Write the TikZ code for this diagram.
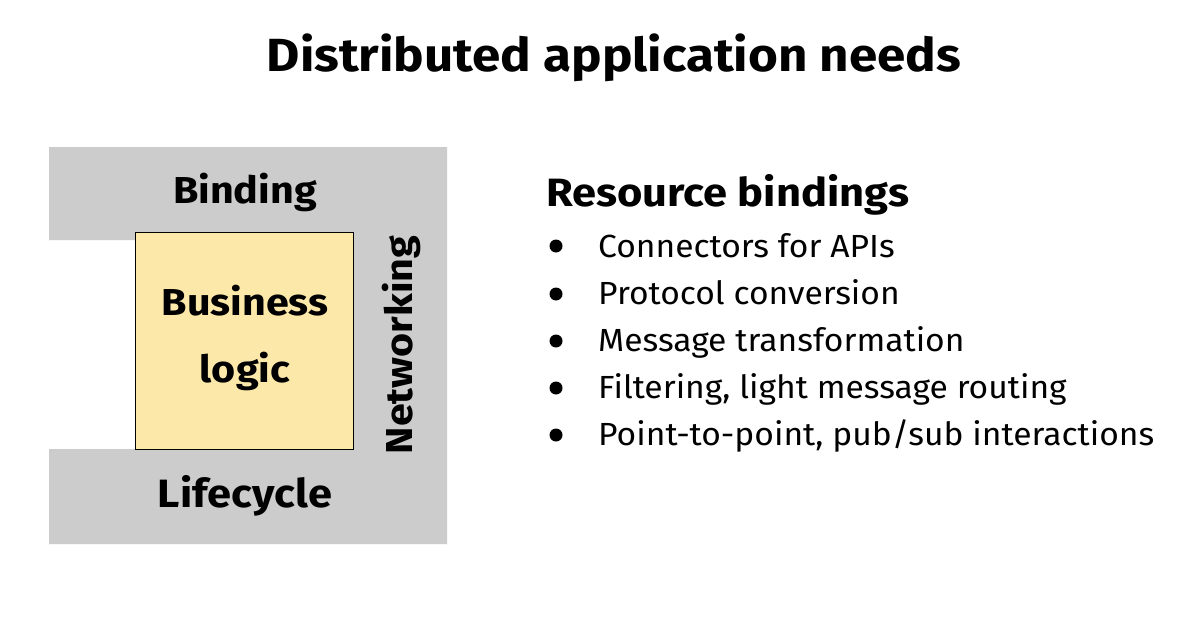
\documentclass[tikz,border=0pt]{standalone}
\usepackage{fontspec}
\setmainfont{Fira Sans}
\newfontfamily\hb{Fira Sans}[FakeStretch=1.1]
\newfontfamily\hr{Fira Sans}[FakeStretch=1.05]
\begin{document}
\begin{tikzpicture}[x=1pt,y=-1pt,
  lbl/.style={font=\hb\fontsize{37.5}{44}\selectfont\bfseries, inner sep=0pt, anchor=base},
  item/.style={font=\hr\fontsize{32}{38}\selectfont, inner sep=0pt, anchor=base west},
  dot/.style={circle, fill=black, minimum size=13pt, inner sep=0pt}]
\useasboundingbox (0,0) rectangle (1200,618);
\fill[white] (0,0) rectangle (1200,618);
% gray C shape
\fill[fill={rgb,255:red,204;green,204;blue,204}] (49,147) -- (447,147) -- (447,544) -- (49,544) -- (49,449) -- (135,449) -- (135,240) -- (49,240) -- cycle;
\node[draw=black, line width=1.2pt, fill={rgb,255:red,252;green,232;blue,168}, minimum width=218pt, minimum height=217pt, inner sep=0pt, anchor=north west] (biz) at (135,232) {};
\node[lbl] (bind) at (245,203) {Binding};
\node[lbl] (bus) at (245,315) {Business};
\node[lbl] (log) at (245,382) {logic};
\node[lbl, font=\hb\fontsize{39.5}{46}\selectfont\bfseries] (life) at (245,507) {Lifecycle};
\node[lbl, rotate=90] (net) at (412,345) {Networking};
% title
\node[font=\hb\fontsize{46.5}{52}\selectfont\bfseries, inner sep=0pt, anchor=base] (title) at (614,72) {Distributed application needs};
% right list
\node[font=\hb\fontsize{39.5}{46}\selectfont\bfseries, inner sep=0pt, anchor=base west] (rb) at (546,206) {Resource bindings};
\node[item] (i1) at (598,257) {Connectors for APIs};
\node[item] (i2) at (598,304) {Protocol conversion};
\node[item] (i3) at (598,351) {Message transformation};
\node[item] (i4) at (598,398) {Filtering, light message routing};
\node[item] (i5) at (598,445) {Point-to-point, pub/sub interactions};
\foreach \y in {246,294,341,388,435} \node[dot] at (556,\y) {};
\end{tikzpicture}
\end{document}
